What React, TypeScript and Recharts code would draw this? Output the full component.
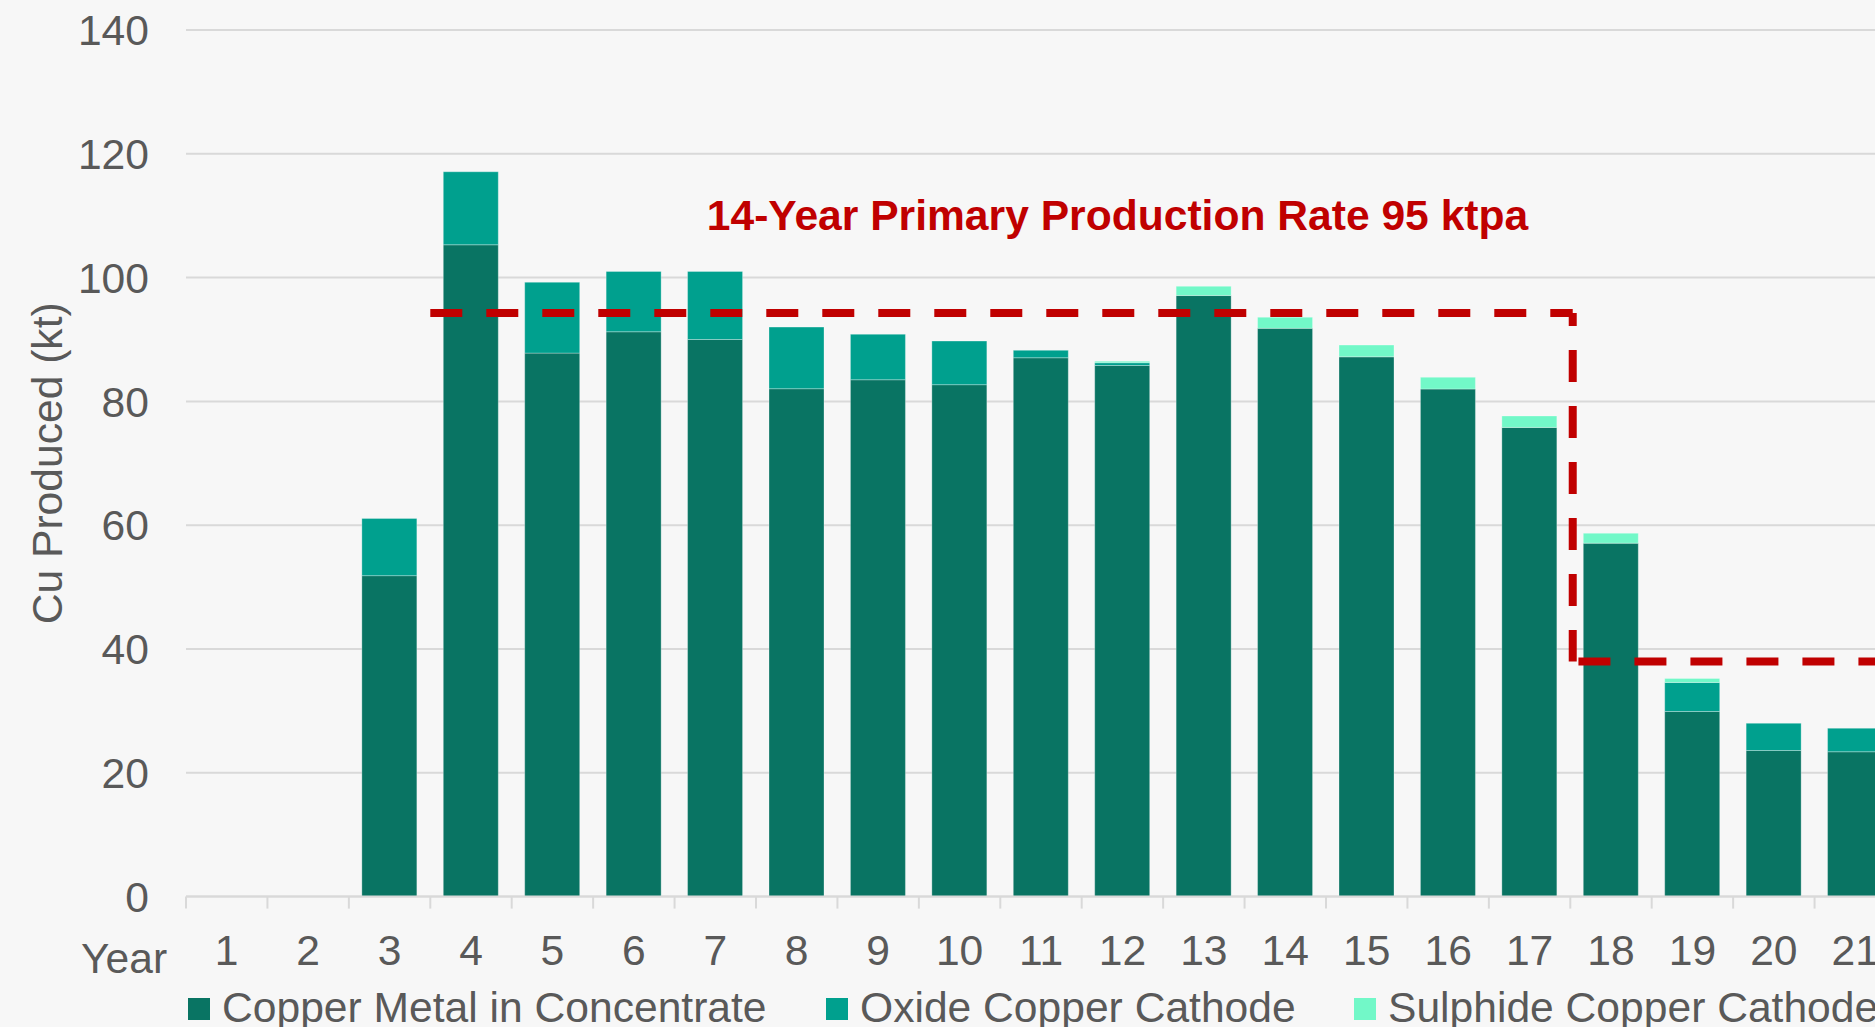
import React from 'react';
import { BarChart, Bar, XAxis, YAxis, CartesianGrid, ReferenceLine, Legend, Label } from 'recharts';

const years = [1, 2, 3, 4, 5, 6, 7, 8, 9, 10, 11, 12, 13, 14, 15, 16, 17, 18, 19, 20, 21];
const concentrate = [0, 0, 51.85, 105.3, 87.8, 91.25, 90.0, 82.05, 83.5, 82.7, 87.05, 85.8, 97.1, 91.8, 87.2, 82.0, 75.8, 57.1, 29.9, 23.6, 23.4];
const oxide = [0, 0, 9.25, 11.8, 11.45, 9.75, 11.0, 9.95, 7.35, 7.05, 1.2, 0.45, 0, 0, 0, 0, 0, 0, 4.7, 4.4, 3.8];
const sulphide = [0, 0, 0, 0, 0, 0, 0, 0, 0, 0, 0, 0.25, 1.5, 1.8, 1.9, 1.9, 1.85, 1.6, 0.65, 0, 0];
const seriesNames = ['Copper Metal in Concentrate', 'Oxide Copper Cathode', 'Sulphide Copper Cathode'];
const yTicks = [0, 20, 40, 60, 80, 100, 120, 140];
const primaryRate = 94.3;
const tailRate = 38;
const primaryStartYear = 3.5;
const primaryEndYear = 17.53;
const tailStartYear = 17.6;
const annotation = '14-Year Primary Production Rate 95 ktpa';

const COLORS = ['#097463', '#00A08E', '#72F8C8'];
const RED = '#C00000';
const GRAY_TEXT = '#595959';
const GRID = '#D9D9D9';
const FONT = '"Liberation Sans", Arial, sans-serif';
const FS = 42.6;

const NUM_AXIS = 'axisA';
const CAT_AXIS = 'axisB';

const data = years.map((y, i) => ({
  year: y,
  concentrate: concentrate[i],
  oxide: oxide[i],
  sulphide: sulphide[i],
}));

const boundaryTicks = [years[0] - 0.5, ...years.map((y) => y + 0.5)];
const xDomain: [number, number] = [years[0] - 0.5, years[years.length - 1] + 0.5];

const legendItemWidths = [638, 528, 700];

const LegendContent = () => (
  <div
    style={{
      display: 'flex',
      paddingLeft: 188,
      fontFamily: FONT,
      fontSize: FS,
      lineHeight: '42px',
      color: GRAY_TEXT,
      whiteSpace: 'nowrap',
    }}
  >
    {seriesNames.map((n, i) => (
      <div key={n} style={{ display: 'flex', alignItems: 'flex-start', width: legendItemWidths[i], flex: 'none' }}>
        <span style={{ width: 22, height: 22, background: COLORS[i], marginTop: 12.6, marginRight: 12, flex: 'none' }} />
        <span>{n}</span>
      </div>
    ))}
  </div>
);

const EmptyTick = () => <g />;

const dashProps = {
  stroke: RED,
  strokeWidth: 8,
  strokeDasharray: '32 24',
  ifOverflow: 'visible' as const,
};

export default function App() {
  return (
    <div
      style={{
        position: 'fixed',
        left: 0,
        top: 0,
        width: 1875,
        height: 1027,
        overflow: 'hidden',
        background: '#F7F7F7',
      }}
    >
      <BarChart
        width={1900}
        height={1027}
        data={data}
        margin={{ top: 30, right: 4, left: 0, bottom: 30.4 }}
        barSize={55}
      >
        <CartesianGrid xAxisId={CAT_AXIS} vertical={false} stroke={GRID} strokeWidth={2} />
        <XAxis
          xAxisId={NUM_AXIS}
          type="number"
          dataKey="year"
          domain={xDomain}
          allowDataOverflow
          ticks={boundaryTicks}
          tick={EmptyTick}
          tickSize={12}
          tickLine={{ stroke: GRID, strokeWidth: 2 }}
          axisLine={{ stroke: GRID, strokeWidth: 2 }}
          height={1}
        />
        <XAxis
          xAxisId={CAT_AXIS}
          dataKey="year"
          type="category"
          height={99}
          tickLine={false}
          axisLine={false}
          tickSize={0}
          tickMargin={37.5}
          interval={0}
          tick={{ fill: GRAY_TEXT, fontSize: FS, fontFamily: FONT }}
        >
          <Label
            content={() => (
              <text x={81} y={972.5} fill={GRAY_TEXT} fontSize={FS} fontFamily={FONT} textAnchor="start">
                Year
              </text>
            )}
          />
        </XAxis>
        <YAxis
          width={186}
          domain={[0, 140]}
          ticks={yTicks}
          tickLine={false}
          axisLine={false}
          tickSize={0}
          tickMargin={37}
          tick={{ fill: GRAY_TEXT, fontSize: FS, fontFamily: FONT }}
        >
          <Label
            content={(props: any) => {
              const vb = props.viewBox || { y: 30, height: 866.6 };
              const cy = vb.y + vb.height / 2;
              return (
                <text
                  x={62}
                  y={cy}
                  transform={`rotate(-90, 62, ${cy})`}
                  fill={GRAY_TEXT}
                  fontSize={FS}
                  fontFamily={FONT}
                  textAnchor="middle"
                >
                  Cu Produced (kt)
                </text>
              );
            }}
          />
        </YAxis>
        <Legend
          layout="horizontal"
          verticalAlign="middle"
          align="center"
          content={LegendContent}
          wrapperStyle={{ top: 985.8, left: 0, width: 1900, bottom: 'auto' }}
        />
        <Bar xAxisId={CAT_AXIS} dataKey="concentrate" name={seriesNames[0]} stackId="a" fill={COLORS[0]} stroke="rgba(255,255,255,0.3)" strokeWidth={1} isAnimationActive={false} />
        <Bar xAxisId={CAT_AXIS} dataKey="oxide" name={seriesNames[1]} stackId="a" fill={COLORS[1]} stroke="rgba(255,255,255,0.3)" strokeWidth={1} isAnimationActive={false} />
        <Bar xAxisId={CAT_AXIS} dataKey="sulphide" name={seriesNames[2]} stackId="a" fill={COLORS[2]} stroke="rgba(255,255,255,0.3)" strokeWidth={1} isAnimationActive={false} />
        <ReferenceLine
          xAxisId={NUM_AXIS}
          segment={[{ x: primaryStartYear, y: primaryRate }, { x: primaryEndYear, y: primaryRate }]}
          {...dashProps}
        >
          <Label
            content={() => (
              <text x={1117.5} y={230} fill={RED} fontSize={FS} fontWeight="bold" fontFamily={FONT} textAnchor="middle">
                {annotation}
              </text>
            )}
          />
        </ReferenceLine>
        <ReferenceLine
          xAxisId={NUM_AXIS}
          segment={[{ x: primaryEndYear, y: primaryRate }, { x: primaryEndYear, y: tailRate }]}
          {...dashProps}
          strokeDashoffset={19}
        />
        <ReferenceLine
          xAxisId={NUM_AXIS}
          segment={[{ x: tailStartYear, y: tailRate }, { x: xDomain[1], y: tailRate }]}
          {...dashProps}
        />
      </BarChart>
    </div>
  );
}
